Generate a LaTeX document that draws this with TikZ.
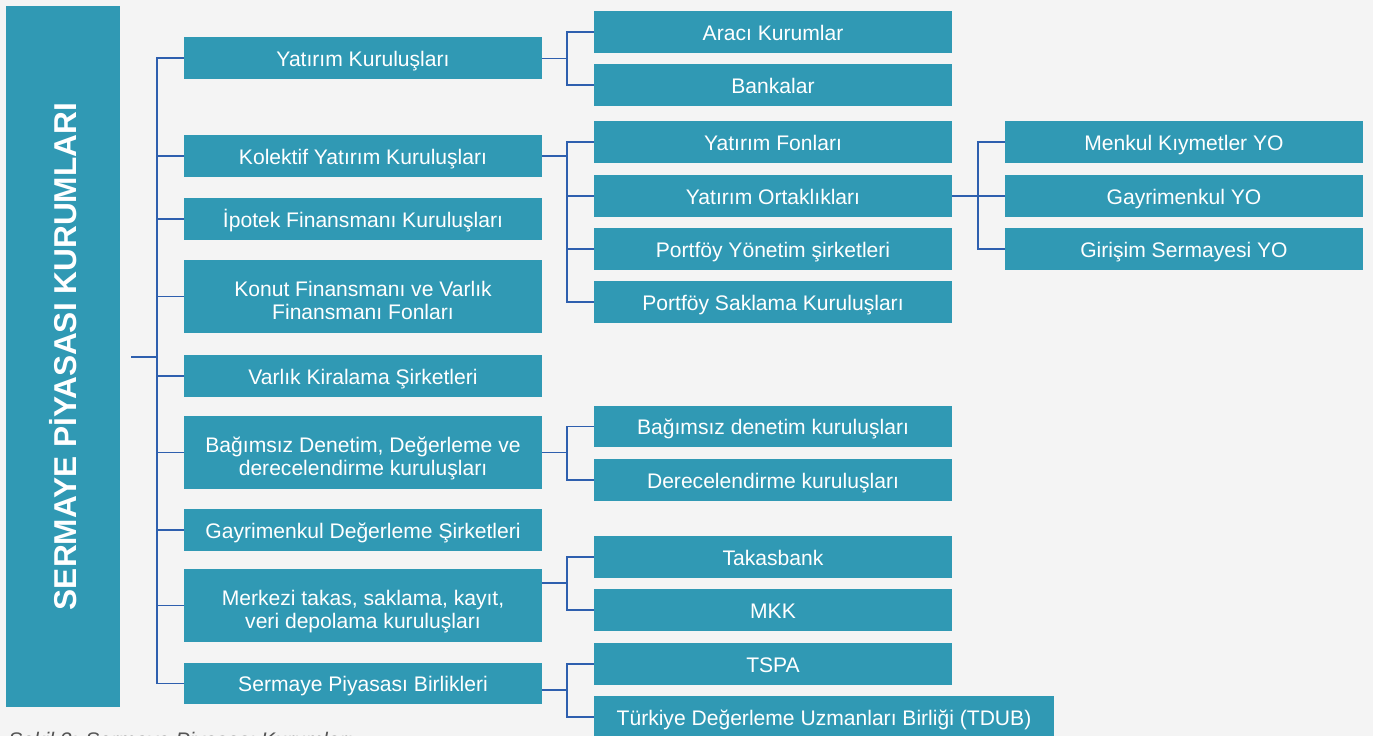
\documentclass[tikz,border=0pt]{standalone}
\usepackage{fontspec}
\setmainfont{Liberation Sans}
\usepackage{xcolor}
\usetikzlibrary{positioning}
\definecolor{boxblue}{HTML}{3099B4}
\definecolor{linkblue}{HTML}{2E5FAE}
\definecolor{pagegray}{HTML}{F4F4F4}
\definecolor{capgray}{HTML}{555555}
\newcommand{\boxstrut}{\rule[-3.1pt]{0pt}{15.5pt}}
\newcommand{\firstline}{\rule{0pt}{16.6pt}}

\begin{document}
\begin{tikzpicture}[
  x=0.02cm,y=-0.02cm,
  box/.style={fill=boxblue,text=white,align=center,inner sep=0pt,minimum width=7.16cm,minimum height=0.84cm,
    font=\fontsize{12}{13.1}\selectfont,execute at begin node=\boxstrut,execute at end node=\boxstrut},
  tall/.style={box,minimum height=1.46cm},
  titlebar/.style={fill=boxblue,text=white,rotate=90,inner sep=0pt,minimum width=14.02cm,minimum height=2.28cm,font=\fontsize{18}{20}\selectfont\bfseries},
  link/.style={draw=linkblue,line width=0.8pt}
]
\useasboundingbox (0,0) rectangle (1373,736);
\clip (0,0) rectangle (1373,736);
\fill[pagegray] (0,0) rectangle (1373,736);

% title bar
\node[titlebar] (title) at (63,356.5) {SERMAYE PİYASASI KURUMLARI};

% first level
\node[box] (yk) at (363,58) {Yatırım Kuruluşları};
\node[box] (kyk) at (363,156) {Kolektif Yatırım Kuruluşları};
\node[box] (ipotek) at (363,219) {İpotek Finansmanı Kuruluşları};
\node[tall] (konut) at (363,296.5) {\firstline Konut Finansmanı ve Varlık\\Finansmanı Fonları};
\node[box] (varlik) at (363,376) {Varlık Kiralama Şirketleri};
\node[tall] (bagimsiz) at (363,452.5) {\firstline Bağımsız Denetim, Değerleme ve\\derecelendirme kuruluşları};
\node[box] (gayri) at (363,530) {Gayrimenkul Değerleme Şirketleri};
\node[tall] (merkezi) at (363,605.5) {\firstline Merkezi takas, saklama, kayıt,\\veri depolama kuruluşları};
\node[box] (birlik) at (363,683.5) {Sermaye Piyasası Birlikleri};

% second level
\node[box] (araci) at (773,32) {Aracı Kurumlar};
\node[box] (banka) at (773,85) {Bankalar};
\node[box] (yfon) at (773,142) {Yatırım Fonları};
\node[box] (yort) at (773,196) {Yatırım Ortaklıkları};
\node[box] (pys) at (773,249) {Portföy Yönetim şirketleri};
\node[box] (psk) at (773,302) {Portföy Saklama Kuruluşları};
\node[box] (bdk) at (773,426.5) {Bağımsız denetim kuruluşları};
\node[box] (derece) at (773,480) {Derecelendirme kuruluşları};
\node[box] (takas) at (773,557) {Takasbank};
\node[box] (mkk) at (773,610) {MKK};
\node[box] (tspa) at (773,664) {TSPA};
\node[box,minimum width=9.2cm] (tdub) at (824,717) {Türkiye Değerleme Uzmanları Birliği (TDUB)};

% third level
\node[box] (mky) at (1184,142) {Menkul Kıymetler YO};
\node[box] (gyo) at (1184,196) {Gayrimenkul YO};
\node[box] (gsy) at (1184,249) {Girişim Sermayesi YO};

% caption
\node[anchor=north west,inner sep=0pt,text=capgray,font=\fontsize{12}{14}\selectfont\itshape] (caption) at (8,732) {Şekil 3: Sermaye Piyasası Kurumları};

% trunk
\coordinate (root) at (131,357);
\coordinate (trunk) at (157,357);
\draw[link] (root) -- (trunk);
\foreach \n in {yk,kyk,ipotek,konut,varlik,bagimsiz,gayri,merkezi,birlik}
  \draw[link] (trunk) |- (\n.west);

% branches
\coordinate (b1) at (567,58.5);
\coordinate (b2) at (567,156);
\coordinate (b3) at (567,452.5);
\coordinate (b4) at (567,583);
\coordinate (b5) at (567,690);
\coordinate (b6) at (978,196);
\foreach \p/\b/\c in {yk/b1/araci,yk/b1/banka,kyk/b2/yfon,kyk/b2/yort,kyk/b2/pys,kyk/b2/psk,
    bagimsiz/b3/bdk,bagimsiz/b3/derece,merkezi/b4/takas,merkezi/b4/mkk,birlik/b5/tspa,birlik/b5/tdub,
    yort/b6/mky,yort/b6/gyo,yort/b6/gsy}
  \draw[link] (\p.east |- \b) -- (\b) |- (\c.west);
\end{tikzpicture}
\end{document}
